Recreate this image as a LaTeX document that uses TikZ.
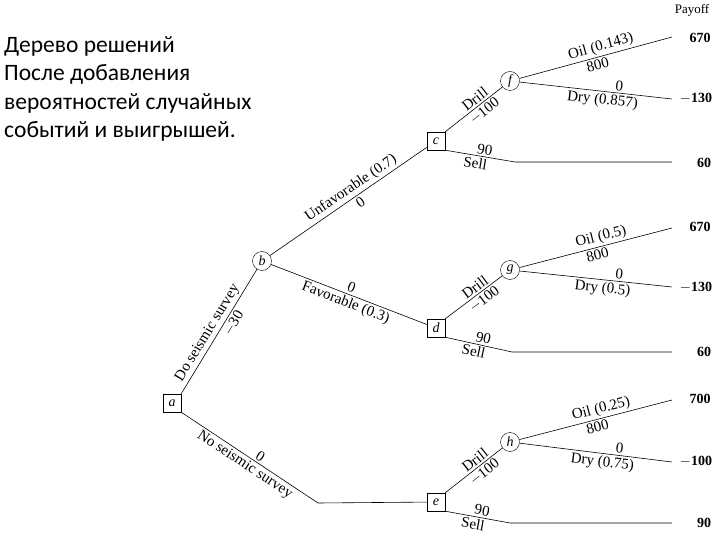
\documentclass[tikz,border=0pt]{standalone}
\usepackage{fontspec}
\setmainfont{Liberation Serif}
\newfontfamily\rusf{Carlito}
\begin{document}
\begin{tikzpicture}[x=1pt,y=-1pt,
 dec/.style={draw,minimum size=18pt,inner sep=0pt,font=\itshape\fontsize{14}{14}\selectfont},
 chc/.style={draw,circle,minimum size=19pt,inner sep=0pt,font=\itshape\fontsize{14}{14}\selectfont},
 lab/.style={sloped,font=\fontsize{15}{15}\selectfont,inner sep=2pt},
 pay/.style={font=\bfseries\fontsize{14}{14}\selectfont,anchor=center},
 ln/.style={line width=0.6pt}]
\useasboundingbox (0,0) rectangle (720,540);
\node[anchor=north west,align=left,font=\rusf\fontsize{23.5}{28.5}\selectfont,inner sep=0pt] (t) at (4,36) {Дерево решений\\После добавления\\вероятностей случайных\\событий и выигрышей.};
\node[font=\fontsize{13}{13}\selectfont] (po) at (692,10) {Payoff};
\node[dec] (a) at (172,403) {a};
\node[chc] (b) at (262,261) {b};
\node[dec] (c) at (436,141) {c};
\node[dec] (d) at (436,328) {d};
\node[dec] (e) at (436,502) {e};
\node[chc] (f) at (510,81) {f};
\node[chc] (g) at (510,270) {g};
\node[chc] (h) at (510,442) {h};
\coordinate (fo) at (672,37); \coordinate (fd) at (672,99);
\coordinate (cs1) at (515,162); \coordinate (cs) at (672,162);
\coordinate (go) at (672,228); \coordinate (gd) at (672,287);
\coordinate (ds1) at (512,352); \coordinate (ds) at (672,352);
\coordinate (ho) at (672,400); \coordinate (hd) at (672,462);
\coordinate (es1) at (510,523); \coordinate (es) at (672,523);
\coordinate (ae) at (318,503);
\node[pay] (p1) at (700,38) {670};
\node[pay] (p2) at (696,98) {$-$130};
\node[pay] (p3) at (704,163) {60};
\node[pay] (p4) at (700,227) {670};
\node[pay] (p5) at (696,287) {$-$130};
\node[pay] (p6) at (704,352) {60};
\node[pay] (p7) at (700,399) {700};
\node[pay] (p8) at (696,461) {$-$100};
\node[pay] (p9) at (704,523) {90};
\draw[ln] (a.north east) -- node[lab,above,pos=0.45]{Do seismic survey} node[lab,below,pos=0.6]{$-$30} (b);
\draw[ln] (a.south east) -- node[lab,above,pos=0.55]{0} node[lab,below,pos=0.5]{No seismic survey} (ae) -- (e);
\draw[ln] (b) -- node[lab,above,pos=0.55]{Unfavorable (0.7)} node[lab,below,pos=0.55]{0} (c);
\draw[ln] (b) -- node[lab,above,pos=0.5]{0} node[lab,below,pos=0.5]{Favorable (0.3)} (d);
\foreach \D/\C/\O/\R/\S/\SE/\po/\pd in {c/f/fo/fd/cs1/cs/0.143/0.857, d/g/go/gd/ds1/ds/0.5/0.5, e/h/ho/hd/es1/es/0.25/0.75}{
 \draw[ln] (\D.north east) -- node[lab,above,pos=0.6]{Drill} node[lab,below,pos=0.6]{$-$100} (\C);
 \draw[ln] (\D.south east) -- node[lab,above,pos=0.55]{90} node[lab,below,pos=0.45]{Sell} (\S) -- (\SE);
 \draw[ln] (\C) -- node[lab,above,pos=0.55]{Oil (\po)} node[lab,below,pos=0.5]{800} (\O);
 \draw[ln] (\C) -- node[lab,above,pos=0.65]{0} node[lab,below,pos=0.55]{Dry (\pd)} (\R);
}
\end{tikzpicture}
\end{document}
